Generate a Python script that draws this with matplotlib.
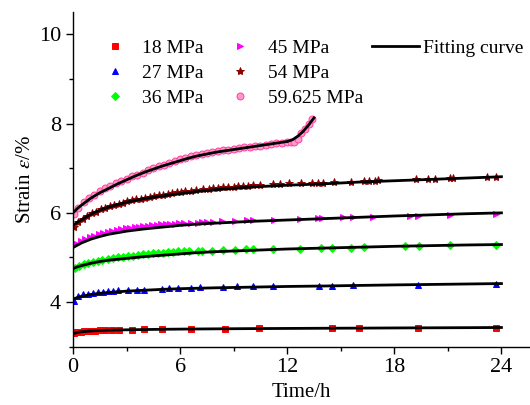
import matplotlib
matplotlib.use("Agg")
import matplotlib.pyplot as plt
from matplotlib.lines import Line2D
from matplotlib.ticker import MultipleLocator

plt.rcParams.update({
    "font.family": ["Liberation Serif", "DejaVu Serif"],
    "mathtext.fontset": "stix",
    "font.size": 14,
})

# ---- measured data (time in h, strain in %) ----
labels = ["18 MPa", "27 MPa", "36 MPa", "45 MPa", "54 MPa", "59.625 MPa"]

t_18 = [0.05, 0.15, 0.3, 0.45, 0.6, 0.8, 1.0, 1.25, 1.5, 1.8, 2.2, 2.6, 3.3, 4.0, 5.0,
        6.6, 8.5, 10.4, 14.5, 16.0, 19.3, 23.7]
e_18 = [3.3, 3.32, 3.33, 3.34, 3.35, 3.35, 3.36, 3.36, 3.37, 3.37, 3.37, 3.38, 3.38, 3.39, 3.39,
        3.4, 3.4, 3.41, 3.41, 3.42, 3.42, 3.43]

t_27 = [0.05, 0.3, 0.57, 0.85, 1.13, 1.4, 1.68, 1.96, 2.24, 2.5, 3.1, 3.6, 4.0, 4.96, 5.4,
        5.9, 6.6, 7.1, 8.4, 9.2, 10.1, 11.2, 13.8, 14.5, 15.7, 19.3, 23.7]
e_27 = [4.03, 4.13, 4.17, 4.19, 4.21, 4.22, 4.23, 4.24, 4.25, 4.26, 4.27, 4.28, 4.28, 4.3, 4.31,
        4.32, 4.32, 4.33, 4.34, 4.35, 4.36, 4.37, 4.36, 4.37, 4.38, 4.39, 4.41]

t_36 = [0.1, 0.35, 0.6, 0.85, 1.1, 1.4, 1.65, 1.95, 2.25, 2.5, 2.8, 3.1, 3.35, 3.65, 3.9,
        4.2, 4.5, 4.75, 5.05, 5.3, 5.6, 5.9, 6.2, 6.5,
        7.0, 7.2, 7.8, 8.4, 9.1, 9.7, 10.1, 11.2, 12.7, 13.9, 14.5, 15.6, 16.3, 18.6, 19.4,
        21.1, 23.7]
e_36 = [4.77, 4.81, 4.85, 4.88, 4.9, 4.93, 4.95, 4.97, 4.99, 5.0, 5.02, 5.03, 5.04, 5.06, 5.07,
        5.08, 5.09, 5.1, 5.11, 5.12, 5.13, 5.14, 5.14, 5.15,
        5.14, 5.15, 5.15, 5.16, 5.17, 5.18, 5.18, 5.19, 5.2, 5.21, 5.22, 5.22, 5.23, 5.25, 5.26,
        5.27, 5.28]

t_45 = [0.2, 0.45, 0.7, 0.95, 1.2, 1.45, 1.7, 1.95, 2.2, 2.45, 2.7, 2.95, 3.2, 3.45, 3.7,
        3.95, 4.2, 4.45, 4.7, 4.95, 5.2, 5.45, 5.7, 5.95, 6.2,
        6.6, 7.0, 7.2, 7.5, 7.85, 8.35, 9.1, 9.75, 10.1, 11.25, 12.7, 13.7, 13.95, 15.1, 15.7,
        16.8, 18.9, 19.3, 21.1, 23.7]
e_45 = [5.3, 5.36, 5.41, 5.45, 5.49, 5.52, 5.55, 5.58, 5.6, 5.62, 5.63, 5.65, 5.66, 5.68, 5.69,
        5.7, 5.71, 5.72, 5.73, 5.74, 5.75, 5.75, 5.76, 5.77, 5.77,
        5.77, 5.78, 5.79, 5.79, 5.8, 5.81, 5.82, 5.83, 5.83, 5.84, 5.87, 5.88, 5.88, 5.9, 5.9,
        5.91, 5.94, 5.94, 5.96, 5.97]

t_54 = [0.05, 0.3, 0.55, 0.8, 1.05, 1.3, 1.55, 1.8, 2.05, 2.3, 2.55, 2.8, 3.05, 3.3, 3.55,
        3.8, 4.05, 4.3, 4.55, 4.8, 5.05, 5.3, 5.55, 5.8, 6.05, 6.3,
        6.6, 6.9, 7.3, 7.6, 7.85, 8.1, 8.4, 8.7, 9.0, 9.25, 9.5, 9.8, 10.1, 10.5, 11.2, 11.6,
        12.1, 12.8, 13.4, 13.7, 14.0, 14.6, 15.6, 16.3, 16.6, 16.9, 17.1, 19.2, 19.9, 20.3,
        21.1, 21.3, 23.2, 23.7]
e_54 = [5.68, 5.8, 5.86, 5.93, 5.99, 6.03, 6.08, 6.12, 6.15, 6.18, 6.21, 6.23, 6.26, 6.28, 6.3,
        6.32, 6.34, 6.36, 6.38, 6.4, 6.41, 6.43, 6.44, 6.46, 6.47, 6.48,
        6.5, 6.51, 6.53, 6.54, 6.55, 6.56, 6.57, 6.58, 6.59, 6.6, 6.6, 6.61, 6.62, 6.63, 6.64,
        6.65, 6.66, 6.67, 6.67, 6.68, 6.68, 6.69, 6.7, 6.71, 6.72, 6.72, 6.73, 6.75, 6.76,
        6.77, 6.78, 6.78, 6.8, 6.81]

t_59 = [0.05, 0.3, 0.6, 0.9, 1.2, 1.5, 1.8, 2.1, 2.4, 2.7, 3.0, 3.3, 3.6, 3.9, 4.2, 4.5,
        4.8, 5.1, 5.4, 5.7, 6.0, 6.3, 6.6, 6.9, 7.2, 7.5, 7.8, 8.1, 8.4, 8.7, 9.0, 9.3,
        9.6, 9.9, 10.2, 10.5, 10.8, 11.1, 11.4, 11.7, 12.0, 12.2, 12.4, 12.6, 12.8, 13.0,
        13.2, 13.4]
e_59 = [5.97, 6.12, 6.24, 6.33, 6.41, 6.49, 6.55, 6.61, 6.66, 6.71, 6.77, 6.82, 6.86, 6.9,
        6.95, 7.0, 7.04, 7.08, 7.12, 7.16, 7.2, 7.23, 7.27, 7.3, 7.32, 7.34, 7.36, 7.38,
        7.4, 7.42, 7.43, 7.45, 7.47, 7.48, 7.5, 7.51, 7.53, 7.54, 7.56, 7.57, 7.58, 7.58,
        7.6, 7.66, 7.78, 7.87, 8.0, 8.1]

# ---- fitting curves ----
fit_t = [0, 0.25, 0.5, 1, 1.5, 2, 3, 4, 5, 6, 7, 8, 10, 12, 14, 16, 18, 20, 22, 24]
fit_18 = [3.29, 3.32, 3.335, 3.352, 3.362, 3.37, 3.378, 3.384, 3.39, 3.394, 3.397, 3.4,
          3.405, 3.409, 3.413, 3.416, 3.42, 3.423, 3.426, 3.43]
fit_27 = [4.07, 4.1, 4.13, 4.17, 4.195, 4.215, 4.245, 4.265, 4.285, 4.3, 4.31, 4.32,
          4.335, 4.35, 4.36, 4.373, 4.385, 4.395, 4.405, 4.415]
fit_36 = [4.75, 4.79, 4.82, 4.87, 4.91, 4.94, 4.98, 5.02, 5.05, 5.08, 5.11, 5.13,
          5.16, 5.19, 5.21, 5.23, 5.25, 5.265, 5.28, 5.29]
fit_45 = [5.22, 5.28, 5.33, 5.41, 5.47, 5.52, 5.59, 5.64, 5.68, 5.72, 5.75, 5.77,
          5.81, 5.84, 5.87, 5.9, 5.93, 5.955, 5.98, 6.0]
fit_54 = [5.72, 5.79, 5.85, 5.97, 6.06, 6.13, 6.24, 6.32, 6.38, 6.43, 6.48, 6.52,
          6.58, 6.62, 6.65, 6.69, 6.72, 6.75, 6.78, 6.81]
fit_t59 = [0, 0.25, 0.5, 1, 1.5, 2, 2.5, 3, 3.5, 4, 4.5, 5, 5.5, 6, 6.5, 7, 7.5, 8, 8.5,
           9, 9.5, 10, 10.5, 11, 11.5, 12, 12.3, 12.6, 12.9, 13.2, 13.5]
fit_59 = [6.0, 6.1, 6.18, 6.33, 6.45, 6.55, 6.65, 6.74, 6.83, 6.91, 6.98, 7.05, 7.11,
          7.17, 7.23, 7.28, 7.32, 7.36, 7.39, 7.42, 7.45, 7.48, 7.51, 7.54, 7.57, 7.6,
          7.64, 7.72, 7.83, 7.97, 8.13]

series = [
    (t_18, e_18, dict(marker="s", color="#ff0000", ms=4.5)),
    (t_27, e_27, dict(marker="^", color="#0000ff", ms=5)),
    (t_36, e_36, dict(marker="D", color="#00ff00", ms=4)),
    (t_45, e_45, dict(marker=">", color="#ff00ff", ms=5)),
    (t_54, e_54, dict(marker="*", color="#8b0000", ms=6)),
    (t_59, e_59, dict(marker="o", color="#ff3fa0", mfc="#ff99cc", ms=5)),
]
fits = [(fit_t, fit_18), (fit_t, fit_27), (fit_t, fit_36), (fit_t, fit_45),
        (fit_t, fit_54), (fit_t59, fit_59)]

fig = plt.figure(figsize=(5.3, 4.05), dpi=100)
ax = fig.add_axes([0.1377, 0.144, 0.8623, 0.826])

handles = []
for (t, e, st), lab in zip(series, labels):
    mfc = st.get("mfc", st["color"])
    ax.plot(t, e, linestyle="none", marker=st["marker"], ms=st["ms"], mfc=mfc,
            mec=st["color"], mew=0.7, zorder=2)
    handles.append(Line2D([], [], linestyle="none", marker=st["marker"], ms=st["ms"],
                          mfc=mfc, mec=st["color"], mew=0.7, label=lab))
for t, f in fits:
    ax.plot(t, f, color="black", lw=2.0, zorder=3)

ax.set_xlim(0, 25.6)
ax.set_ylim(3.0, 10.5)
ax.xaxis.set_major_locator(MultipleLocator(6))
ax.xaxis.set_minor_locator(MultipleLocator(3))
ax.yaxis.set_major_locator(MultipleLocator(2))
ax.yaxis.set_minor_locator(MultipleLocator(1))
ax.tick_params(which="both", direction="out", labelsize=16, width=1.0)
ax.tick_params(which="major", length=5)
ax.tick_params(which="minor", length=3)
ax.spines["top"].set_visible(False)
ax.spines["right"].set_visible(False)
for s in ("left", "bottom"):
    ax.spines[s].set_linewidth(1.0)

ax.set_xlabel("Time/h", fontsize=15, labelpad=4)
ax.set_ylabel(r"Strain $\varepsilon$/%", fontsize=15, labelpad=3)

leg1 = ax.legend(handles=handles, ncol=2, loc="upper left", bbox_to_anchor=(0.07, 0.92),
                 frameon=False, fontsize=14, handlelength=1.0, handletextpad=0.9,
                 columnspacing=1.4, labelspacing=0.38, borderpad=0, borderaxespad=0)
ax.add_artist(leg1)
fit_handle = Line2D([], [], color="black", lw=2.0, label="Fitting curve")
ax.legend(handles=[fit_handle], loc="upper left", bbox_to_anchor=(0.654, 0.92),
          frameon=False, fontsize=14, handlelength=2.4, handletextpad=0.25,
          borderpad=0, borderaxespad=0)

fig.savefig("out.png", dpi=100)
